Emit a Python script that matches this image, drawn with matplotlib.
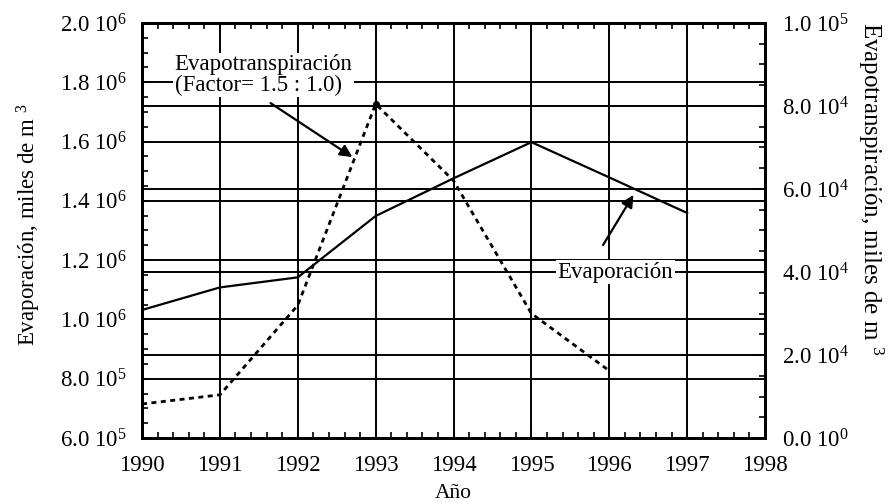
import numpy as np
import matplotlib
matplotlib.use('Agg')
import matplotlib.pyplot as plt
from matplotlib.ticker import MultipleLocator, FuncFormatter

plt.rcParams['font.family'] = ['Liberation Serif', 'DejaVu Serif']
plt.rcParams['mathtext.fontset'] = 'custom'
plt.rcParams['mathtext.rm'] = 'Liberation Serif'
plt.rcParams['mathtext.it'] = 'Liberation Serif:italic'

# data
years_evap = [1990, 1991, 1992, 1993, 1994, 1995, 1996, 1997]
evaporacion = [1.032e6, 1.108e6, 1.142e6, 1.349e6, 1.476e6, 1.598e6, 1.479e6, 1.359e6]

years_evt = [1990, 1991, 1992, 1993, 1994, 1995, 1996]
evapotranspiracion = [8.2e3, 1.04e4, 3.2e4, 8.05e4, 6.2e4, 3.0e4, 1.62e4]

year_ticks = [1990, 1991, 1992, 1993, 1994, 1995, 1996, 1997, 1998]


def sci_label(v, pos=None):
    if v == 0:
        return '0.0 10$^{0}$'
    e = int(np.floor(np.log10(abs(v)) + 1e-9))
    m = v / 10 ** e
    return f'{m:.1f} 10$^{{{e}}}$'


fig = plt.figure(figsize=(8.9, 5.03), dpi=100)
ax = fig.add_axes([0.1596, 0.1292, 0.7000, 0.8251])
ax2 = ax.twinx()

fs = 16.5
ax.plot(years_evap, evaporacion, color='black', lw=1.6, zorder=3)
ax2.plot(years_evt, evapotranspiracion, color='black', lw=2.0,
         linestyle=(0, (1.8, 1.6)), marker='o', markevery=[3], ms=4, zorder=3)

ax.set_xlim(1990, 1998)
ax.set_ylim(6e5, 2e6)
ax2.set_ylim(0, 1e5)

ax.set_xticks(year_ticks)
ax.xaxis.set_minor_locator(MultipleLocator(0.2))
ax.yaxis.set_major_locator(MultipleLocator(2e5))
ax.yaxis.set_minor_locator(MultipleLocator(5e4))
ax2.yaxis.set_major_locator(MultipleLocator(2e4))
ax2.yaxis.set_minor_locator(MultipleLocator(5e3))
ax.yaxis.set_major_formatter(FuncFormatter(sci_label))
ax2.yaxis.set_major_formatter(FuncFormatter(sci_label))

ax.grid(True, which='major', color='black', lw=1.4)
ax2.grid(True, which='major', axis='y', color='black', lw=1.4)

ax.tick_params(which='both', direction='in', top=True, width=1.2, labelsize=fs)
ax.tick_params(which='major', length=5, pad=11)
ax.tick_params(which='minor', length=4)
ax.tick_params(axis='x', pad=12)
ax2.tick_params(which='both', direction='in', width=1.2, labelsize=fs, pad=12)
ax2.tick_params(which='major', length=5)
ax2.tick_params(which='minor', length=4)

for a in (ax, ax2):
    for s in a.spines.values():
        s.set_linewidth(2)

ax.set_xlabel('Año', fontsize=fs - 1, labelpad=6)
ax.set_ylabel('Evaporación, miles de m $^3$', fontsize=fs, va='center', ha='center')
ax.yaxis.set_label_coords(-0.182, 0.515)
ax2.set_ylabel('Evapotranspiración, miles de m $^3$', fontsize=fs + 1.5,
               rotation=-90, va='center', ha='center')
ax2.yaxis.set_label_coords(1.17, 0.60)

# annotations
ax2.text(1990.42, 8.75e4, 'Evapotranspiración\n(Factor= 1.5 : 1.0)',
         fontsize=fs, ha='left', va='center', linespacing=0.95, zorder=5,
         bbox=dict(facecolor='white', edgecolor='none', pad=1))
ax2.annotate('', xy=(1992.70, 6.77e4), xytext=(1991.65, 8.07e4),
             arrowprops=dict(arrowstyle='-|>', color='black', lw=1.6,
                             mutation_scale=18, shrinkA=0, shrinkB=0), zorder=5)

ax2.text(1996.08, 4.0e4, 'Evaporación', fontsize=fs, ha='center', va='center',
         zorder=5, bbox=dict(facecolor='white', edgecolor='none', pad=1))
ax2.annotate('', xy=(1996.31, 1.420e6), xycoords=ax.transData,
             xytext=(1995.92, 1.251e6), textcoords=ax.transData,
             arrowprops=dict(arrowstyle='-|>', color='black', lw=1.6,
                             mutation_scale=18, shrinkA=0, shrinkB=0), zorder=5)

fig.savefig('out.png', dpi=100)
